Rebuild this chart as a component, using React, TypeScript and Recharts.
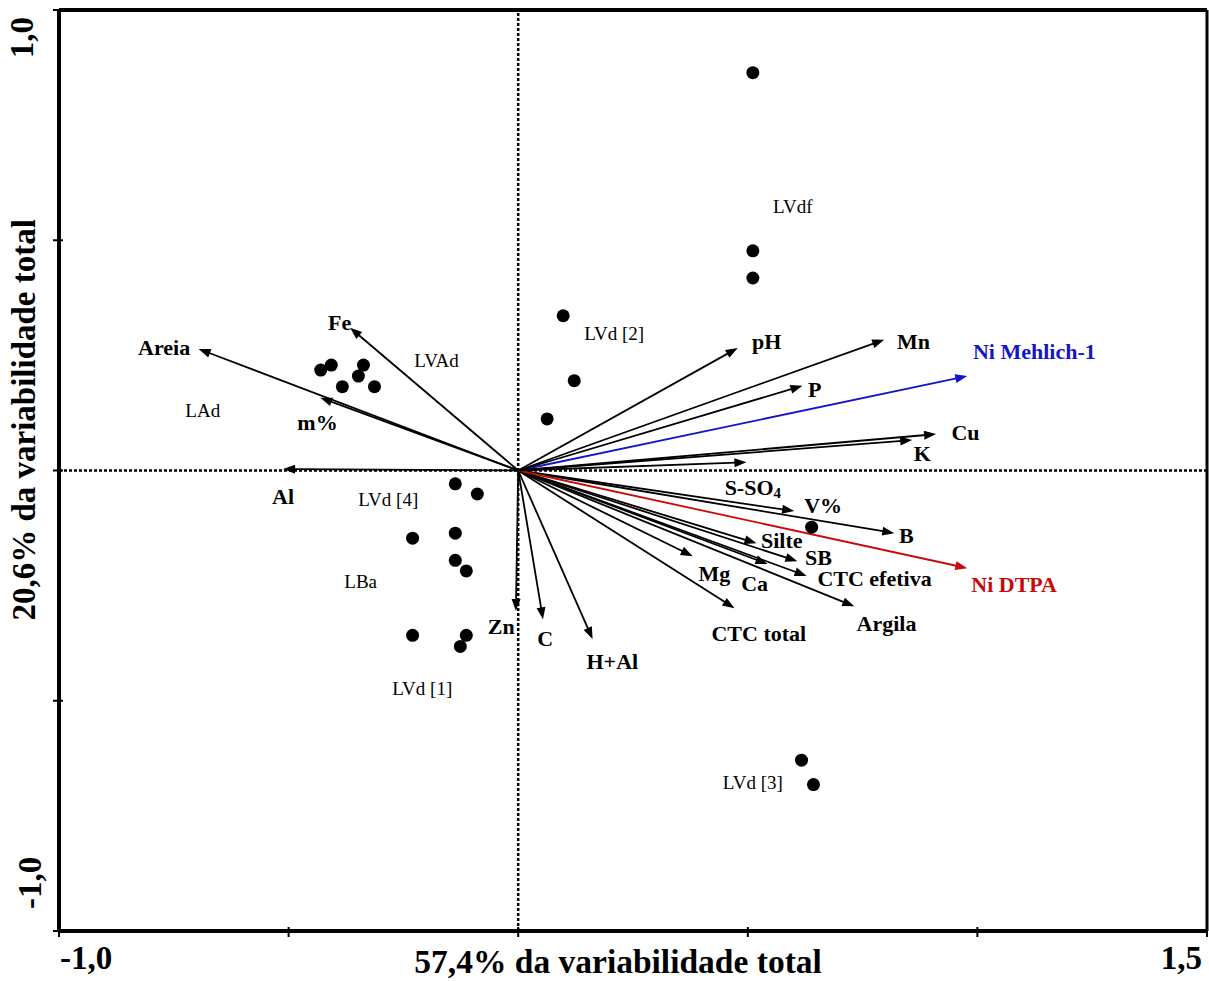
import { ScatterChart, Scatter, XAxis, YAxis, ReferenceLine } from 'recharts';

const serif = '"Liberation Serif", "Times New Roman", Times, serif';

// variable loadings (arrow tips)
const varNames = ['Areia', 'Fe', 'm%', 'Al', 'Zn', 'C', 'H+Al', 'CTC total', 'Argila', 'Mg', 'Ca', 'CTC efetiva', 'SB', 'Silte', 'S-SO4', 'V%', 'B', 'Ni DTPA', 'Ni Mehlich-1', 'pH', 'Mn', 'P', 'Cu', 'K'];
const varX = [-0.696, -0.366, -0.431, -0.512, -0.005, 0.054, 0.162, 0.471, 0.732, 0.38, 0.543, 0.628, 0.608, 0.519, 0.497, 0.601, 0.819, 0.978, 0.978, 0.478, 0.797, 0.619, 0.91, 0.858];
const varY = [0.264, 0.31, 0.158, 0.003, -0.305, -0.323, -0.366, -0.299, -0.295, -0.186, -0.203, -0.229, -0.197, -0.158, 0.018, -0.088, -0.136, -0.212, 0.205, 0.266, 0.284, 0.184, 0.079, 0.066];
// where each variable name sits (data units)
const varLabelX = [-0.771, -0.389, -0.437, -0.512, -0.037, 0.059, 0.205, 0.524, 0.802, 0.427, 0.515, 0.776, 0.654, 0.574, 0.511, 0.664, 0.845, 1.08, 1.124, 0.541, 0.861, 0.646, 0.974, 0.88];
const varLabelY = [0.268, 0.321, 0.104, -0.057, -0.338, -0.364, -0.414, -0.353, -0.333, -0.224, -0.245, -0.234, -0.188, -0.153, -0.036, -0.077, -0.142, -0.247, 0.259, 0.28, 0.281, 0.176, 0.083, 0.036];

// sample scores
const sampleX = [0.511, 0.511, 0.511, 0.098, 0.122, 0.063, -0.43, -0.407, -0.337, -0.348, -0.383, -0.313, -0.137, -0.089, -0.23, -0.137, -0.137, -0.113, -0.23, -0.113, -0.126, 0.639, 0.617, 0.643];
const sampleY = [0.864, 0.477, 0.418, 0.336, 0.195, 0.112, 0.218, 0.229, 0.229, 0.205, 0.182, 0.182, -0.029, -0.051, -0.147, -0.136, -0.195, -0.218, -0.358, -0.358, -0.382, -0.123, -0.629, -0.682];

// soil class labels
const groupNames = ['LVdf', 'LVd [2]', 'LVAd', 'LAd', 'LVd [4]', 'LBa', 'LVd [1]', 'LVd [3]'];
const groupX = [0.598, 0.209, -0.178, -0.687, -0.283, -0.343, -0.209, 0.511];
const groupY = [0.573, 0.297, 0.238, 0.131, -0.064, -0.242, -0.473, -0.677];

const xTicks = [-1, -0.5, 0, 0.5, 1, 1.5];
const yTicks = [-1, -0.5, 0, 0.5, 1];

const highlight: Record<string, string> = { 'Ni Mehlich-1': '#1414c8', 'Ni DTPA': '#c80a0a' };

const vectors = varNames.map((name, i) => ({ name, x: varX[i], y: varY[i] }));
const varLabels = varNames.map((name, i) => ({ name, x: varLabelX[i], y: varLabelY[i] }));
const samples = sampleX.map((x, i) => ({ x, y: sampleY[i] }));
const groups = groupNames.map((name, i) => ({ name, x: groupX[i], y: groupY[i] }));

const fmt = (v: number) => v.toFixed(1).replace('.', ',');

const Arrow = (props: any) => {
  const { x1, y1, x2, y2, stroke } = props;
  const dx = x2 - x1;
  const dy = y2 - y1;
  const len = Math.hypot(dx, dy) || 1;
  const ux = dx / len;
  const uy = dy / len;
  const hl = 12;
  const hw = 4.5;
  const bx = x2 - ux * hl;
  const by = y2 - uy * hl;
  return (
    <g>
      <line x1={x1} y1={y1} x2={bx + ux * 2} y2={by + uy * 2} stroke={stroke} strokeWidth={1.8} />
      <polygon points={`${x2},${y2} ${bx - uy * hw},${by + ux * hw} ${bx + uy * hw},${by - ux * hw}`} fill={stroke} />
    </g>
  );
};

const XTick = ({ x, y, payload }: any) => {
  const v = payload.value;
  return (
    <g>
      <line x1={x} x2={x} y1={y - 4} y2={y + 6} stroke="#000" strokeWidth={2} />
      {(v === -1 || v === 1.5) && (
        <text x={v === -1 ? x + 1 : x - 5} y={y + 38} textAnchor={v === -1 ? 'start' : 'end'}
          fontFamily={serif} fontWeight="bold" fontSize={33} fill="#000">{fmt(v)}</text>
      )}
    </g>
  );
};

const YTick = ({ x, y, payload }: any) => {
  const v = payload.value;
  const tx = v === 1 ? x - 26 : x - 18;
  const ty = v === 1 ? y + 7 : y - 22;
  return (
    <g>
      <line x1={x - 6} x2={x + 4} y1={y} y2={y} stroke="#000" strokeWidth={2} />
      {(v === 1 || v === -1) && (
        <text x={tx} y={ty} transform={`rotate(-90 ${tx} ${ty})`} textAnchor={v === 1 ? 'end' : 'start'}
          fontFamily={serif} fontWeight="bold" fontSize={33} fill="#000">{fmt(v)}</text>
      )}
    </g>
  );
};

const xTitle = ({ viewBox }: any) => (
  <text x={viewBox.x + viewBox.width * 0.487} y={viewBox.y + 42} textAnchor="middle"
    fontFamily={serif} fontWeight="bold" fontSize={33.5} fill="#000">57,4% da variabilidade total</text>
);

const yTitle = ({ viewBox }: any) => {
  const tx = viewBox.x + viewBox.width - 24;
  const ty = viewBox.y + viewBox.height * 0.445;
  return (
    <text x={tx} y={ty} transform={`rotate(-90 ${tx} ${ty})`} textAnchor="middle"
      fontFamily={serif} fontWeight="bold" fontSize={33} fill="#000">20,6% da variabilidade total</text>
  );
};

const Dot = ({ cx, cy }: any) => <circle cx={cx} cy={cy} r={6.5} fill="#000" />;

const VarLabel = ({ cx, cy, payload }: any) => (
  <text x={cx} y={cy} textAnchor="middle" dominantBaseline="central" fontFamily={serif}
    fontWeight="bold" fontSize={22} fill={highlight[payload.name] || '#000'}>
    {payload.name === 'S-SO4' ? (
      <>S-SO<tspan fontSize={15} dy={6}>4</tspan></>
    ) : payload.name}
  </text>
);

const GroupLabel = ({ cx, cy, payload }: any) => (
  <text x={cx} y={cy} textAnchor="middle" dominantBaseline="central" fontFamily={serif}
    fontSize={19} fill="#000">{payload.name}</text>
);

export default function App() {
  return (
    <div style={{ position: 'absolute', left: 0, top: 0, background: '#fff' }}>
      <ScatterChart width={1209} height={981} margin={{ top: 10, right: 2, bottom: 0, left: 0 }}
        style={{ fontFamily: serif }}>
        <XAxis type="number" dataKey="x" domain={[-1, 1.5]} ticks={xTicks} height={50}
          axisLine={{ stroke: '#000', strokeWidth: 4 }} tickLine={false} tickSize={0} tickMargin={0}
          tick={XTick} interval={0} label={xTitle} />
        <YAxis type="number" dataKey="y" domain={[-1, 1]} ticks={yTicks} width={59}
          axisLine={{ stroke: '#000', strokeWidth: 4 }} tickLine={false} tickSize={0} tickMargin={0}
          tick={YTick} interval={0} label={yTitle} />
        <ReferenceLine y={1} stroke="#000" strokeWidth={4} />
        <ReferenceLine x={1.5} stroke="#000" strokeWidth={3} />
        <ReferenceLine x={0} stroke="#000" strokeWidth={2.5} strokeDasharray="3 2" />
        <ReferenceLine y={0} stroke="#000" strokeWidth={2.5} strokeDasharray="3 2" />
        {vectors.map((v) => (
          <ReferenceLine key={v.name} segment={[{ x: 0, y: 0 }, { x: v.x, y: v.y }]}
            stroke={highlight[v.name] || '#000'} shape={Arrow} />
        ))}
        <Scatter data={samples} shape={Dot} isAnimationActive={false} />
        <Scatter data={varLabels} shape={VarLabel} isAnimationActive={false} />
        <Scatter data={groups} shape={GroupLabel} isAnimationActive={false} />
      </ScatterChart>
    </div>
  );
}
